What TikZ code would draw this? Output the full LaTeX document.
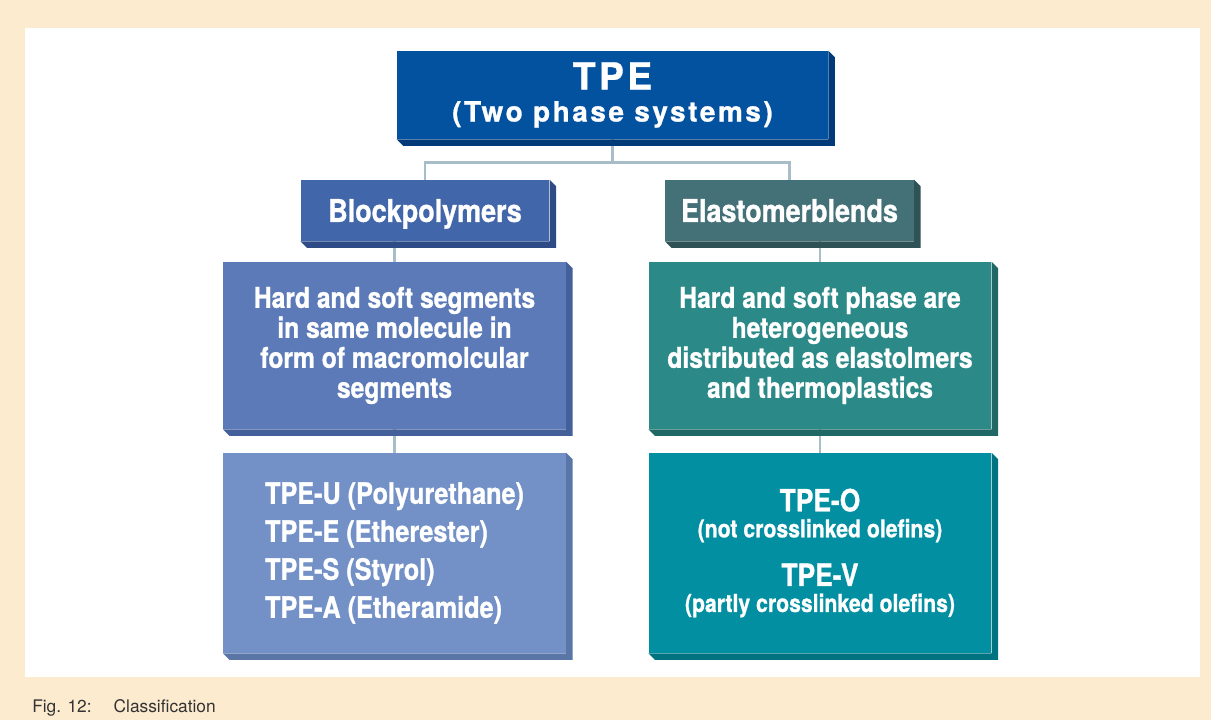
\documentclass[tikz,border=0pt]{standalone}
\usepackage{fontspec}
\setmainfont{TeX Gyre Heros}
\newfontfamily\narrowsans[FakeStretch=0.86,FakeBold=0.9]{TeX Gyre Heros}
\newfontfamily\widesans[LetterSpace=9,FakeBold=0.9]{TeX Gyre Heros}
\usepackage{tikz}
\usetikzlibrary{calc,positioning}
\definecolor{pageCream}{RGB}{253,235,208}
\definecolor{linkGray}{RGB}{169,189,201}
\definecolor{captionGray}{RGB}{51,51,51}
\definecolor{tpeBlue}{RGB}{3,82,160}
\definecolor{tpeBlueDark}{RGB}{0,58,120}
\definecolor{blkBlue}{RGB}{66,102,170}
\definecolor{blkBlueDark}{RGB}{47,75,134}
\definecolor{elaTeal}{RGB}{67,113,119}
\definecolor{elaTealDark}{RGB}{47,82,87}
\definecolor{blkDescBlue}{RGB}{91,122,183}
\definecolor{blkDescBlueDark}{RGB}{68,96,154}
\definecolor{elaDescTeal}{RGB}{43,138,135}
\definecolor{elaDescTealDark}{RGB}{31,104,102}
\definecolor{blkTypeBlue}{RGB}{115,145,198}
\definecolor{blkTypeBlueDark}{RGB}{90,118,166}
\definecolor{elaTypeTeal}{RGB}{2,143,161}
\definecolor{elaTypeTealDark}{RGB}{0,115,129}

\begin{document}
\begin{tikzpicture}[x=0.75pt,y=-0.75pt,
  boxface/.style={fill=#1, text=white, inner sep=0pt, align=center},
  headbox/.style={boxface=#1, minimum width=186.5pt, minimum height=45.75pt, text depth=0pt,
    font=\narrowsans\bfseries\fontsize{23.5}{24}\selectfont},
  descbox/.style={boxface=#1, minimum width=257pt, minimum height=125.25pt,
    font=\narrowsans\bfseries\fontsize{21.5}{22.5}\selectfont},
  typebox/.style={boxface=#1, minimum width=257pt, minimum height=150pt},
  link/.style={draw=linkGray, line width=2.2pt}]
\useasboundingbox (0,0) rectangle (1211,720);
\fill[pageCream] (0,0) rectangle (1211,720);
\fill[white] (25,28) rectangle (1200,677);

\node[boxface=tpeBlue, minimum width=323.25pt, minimum height=66pt,
  font=\widesans\bfseries\fontsize{21}{24}\selectfont] (tpe) at (612.5,95)
  {{\fontsize{28}{24}\selectfont TPE}\\(Two phase systems)};

\node[headbox=blkBlue] (blk) at (425,210.5) {Blockpolymers};
\node[headbox=elaTeal] (ela) at (789.5,210.5) {Elastomerblends};

\node[descbox=blkDescBlue] (blkdesc) at (394.5,345.5)
  {Hard and soft segments\\in same molecule in\\form of macromolcular\\segments};
\node[descbox=elaDescTeal] (eladesc) at (820,345.5)
  {Hard and soft phase are\\heterogeneous\\distributed as elastolmers\\and thermoplastics};

\node[typebox=blkTypeBlue, align=left,
  font=\narrowsans\bfseries\fontsize{22}{28.5}\selectfont] (blktypes) at (394.5,553)
  {TPE-U (Polyurethane)\\TPE-E (Etherester)\\TPE-S (Styrol)\\TPE-A (Etheramide)};
\node[typebox=elaTypeTeal,
  font=\narrowsans\bfseries\fontsize{18.5}{19.5}\selectfont] (elatypes) at (820,553)
  {{\fontsize{23}{19.5}\selectfont TPE-O}\\(not crosslinked olefins)\\[15pt]
   {\fontsize{23}{19.5}\selectfont TPE-V}\\(partly crosslinked olefins)};

\draw[link] (tpe.south) -- ++(0,23) coordinate (split);
\draw[link] (split) -| (blk.north);
\draw[link] (split) -| (ela.north);
\draw[link] (blkdesc.north) -- (blkdesc.north |- blk.south);
\draw[link] (eladesc.north) -- (eladesc.north |- ela.south);
\draw[link] (blktypes.north) -- (blkdesc.south);
\draw[link] (elatypes.north) -- (eladesc.south);

\foreach \n/\c in {tpe/tpeBlueDark, blk/blkBlueDark, ela/elaTealDark,
    blkdesc/blkDescBlueDark, eladesc/elaDescTealDark,
    blktypes/blkTypeBlueDark, elatypes/elaTypeTealDark}
  \fill[\c] (\n.north east) -- ++(6.5,6.5) -- ($(\n.south east)+(6.5,6.5)$)
    -- ($(\n.south west)+(6.5,6.5)$) -- (\n.south west) -- (\n.south east) -- cycle;

\node[anchor=base west, text=captionGray, inner sep=0pt,
  font=\fontsize{13}{15}\selectfont] (caption) at (32,712)
  {Fig. 12:\hspace{16.5pt}Classification};
\end{tikzpicture}
\end{document}
